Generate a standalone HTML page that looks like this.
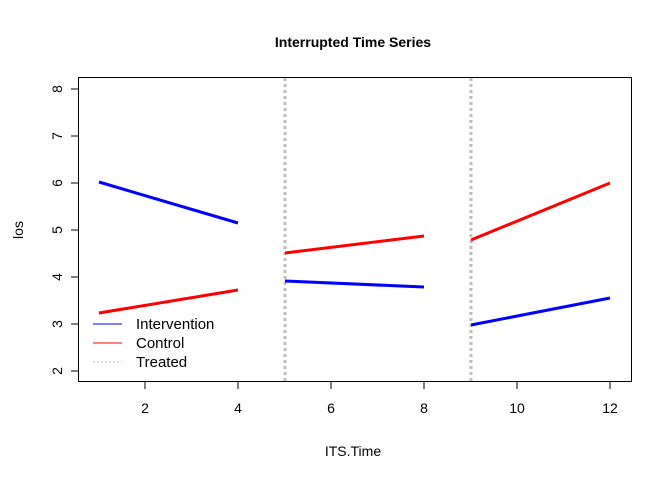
<!DOCTYPE html>
<html><head><style>body{margin:0;background:#fff}</style></head><body>
<svg width="672" height="480" xmlns="http://www.w3.org/2000/svg" font-family="Liberation Sans, Arial, sans-serif">
<rect width="672" height="480" fill="#fff"/>
<text x="353" y="47" text-anchor="middle" font-size="14" font-weight="bold">Interrupted Time Series</text>
<rect x="78.5" y="77.5" width="553" height="304" fill="none" stroke="#000" stroke-width="1"/>
<g stroke="#000" stroke-width="1">
<line x1="145" y1="382" x2="145" y2="389"/><line x1="238" y1="382" x2="238" y2="389"/><line x1="331" y1="382" x2="331" y2="389"/><line x1="424" y1="382" x2="424" y2="389"/><line x1="517" y1="382" x2="517" y2="389"/><line x1="610" y1="382" x2="610" y2="389"/>
<line x1="78" y1="371" x2="71" y2="371"/><line x1="78" y1="324" x2="71" y2="324"/><line x1="78" y1="277" x2="71" y2="277"/><line x1="78" y1="230" x2="71" y2="230"/><line x1="78" y1="183" x2="71" y2="183"/><line x1="78" y1="136" x2="71" y2="136"/><line x1="78" y1="89" x2="71" y2="89"/>
</g>
<g font-size="14" text-anchor="middle">
<text x="145" y="413">2</text><text x="238" y="413">4</text><text x="331" y="413">6</text><text x="424" y="413">8</text><text x="517" y="413">10</text><text x="610" y="413">12</text>
<text x="353" y="456">ITS.Time</text>
</g>
<g font-size="14" text-anchor="middle">
<text transform="translate(57,371) rotate(-90)" x="0" y="5">2</text>
<text transform="translate(57,324) rotate(-90)" x="0" y="5">3</text>
<text transform="translate(57,277) rotate(-90)" x="0" y="5">4</text>
<text transform="translate(57,230) rotate(-90)" x="0" y="5">5</text>
<text transform="translate(57,183) rotate(-90)" x="0" y="5">6</text>
<text transform="translate(57,136) rotate(-90)" x="0" y="5">7</text>
<text transform="translate(57,89) rotate(-90)" x="0" y="5">8</text>
<text transform="translate(18,230) rotate(-90)" x="0" y="5">los</text>
</g>
<g stroke="#bebebe" stroke-width="3" stroke-dasharray="3,3">
<line x1="285" y1="78" x2="285" y2="381"/><line x1="471" y1="78" x2="471" y2="381"/>
</g>
<g stroke-width="3" fill="none">
<line x1="99" y1="182" x2="238" y2="223" stroke="#0000ff"/>
<line x1="99" y1="313" x2="238" y2="290" stroke="#ff0000"/>
<line x1="285" y1="253" x2="424" y2="236" stroke="#ff0000"/>
<line x1="285" y1="281" x2="424" y2="287" stroke="#0000ff"/>
<line x1="471" y1="240" x2="610" y2="183" stroke="#ff0000"/>
<line x1="471" y1="325" x2="610" y2="298" stroke="#0000ff"/>
</g>
<line x1="93" y1="324" x2="122" y2="324" stroke="#0000ff" stroke-width="1"/>
<line x1="93" y1="343" x2="122" y2="343" stroke="#ff0000" stroke-width="1"/>
<line x1="93" y1="362" x2="122" y2="362" stroke="#bebebe" stroke-width="1" stroke-dasharray="2,2"/>
<g font-size="15"><text x="136" y="329">Intervention</text><text x="136" y="348">Control</text><text x="136" y="367">Treated</text></g>
</svg>
</body></html>
